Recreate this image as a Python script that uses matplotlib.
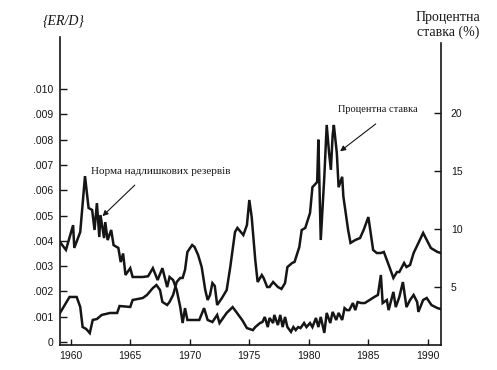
import matplotlib
matplotlib.use("Agg")
import matplotlib.pyplot as plt

# excess reserves / deposits (left axis)
er_years = [1959.1, 1959.6, 1960.2, 1960.3, 1960.8, 1961.2, 1961.5, 1961.8, 1962.0, 1962.2,
            1962.4, 1962.5, 1962.8, 1962.9, 1963.1, 1963.4, 1963.6, 1964.0, 1964.2, 1964.4,
            1964.6, 1965.0, 1965.2, 1965.6, 1966.05, 1966.5, 1966.9, 1967.3, 1967.7, 1968.1,
            1968.3, 1968.6, 1968.9, 1969.2, 1969.4, 1969.6, 1969.8, 1970.8, 1971.2, 1971.5,
            1971.9, 1972.3, 1972.5, 1973.1, 1973.6, 1973.9, 1974.4, 1974.8, 1975.3, 1975.5,
            1975.9, 1976.1, 1976.3, 1976.55, 1976.7, 1977.0, 1977.1, 1977.4, 1977.6, 1977.8,
            1978.0, 1978.2, 1978.5, 1978.7, 1978.9, 1979.1, 1979.3, 1979.6, 1979.8, 1980.1,
            1980.3, 1980.6, 1980.8, 1981.0, 1981.3, 1981.5, 1981.8, 1982.0, 1982.3, 1982.5,
            1982.8, 1983.0, 1983.2, 1983.4, 1983.7, 1983.9, 1984.1, 1984.4, 1984.7, 1985.1,
            1985.5, 1985.8, 1986.05, 1986.2, 1986.55, 1986.7, 1987.1, 1987.3, 1987.6, 1987.9,
            1988.2, 1988.5, 1988.8, 1989.1, 1989.2, 1989.6, 1989.9, 1990.3, 1990.8, 1991.1]
er_ratio = [3.95, 3.64, 4.62, 3.72, 4.35, 6.56, 5.30, 5.22, 4.43, 5.49,
            4.15, 5.02, 4.11, 4.74, 4.03, 4.43, 3.83, 3.72, 3.16, 3.50,
            2.65, 2.92, 2.57, 2.57, 2.57, 2.60, 2.92, 2.45, 2.92, 2.17,
            2.57, 2.45, 2.06, 1.38, 0.75, 1.34, 0.87, 0.87, 1.34, 0.87,
            0.79, 1.07, 0.75, 1.15, 1.38, 1.19, 0.87, 0.55, 0.47, 0.59,
            0.75, 0.79, 0.99, 0.59, 0.95, 0.75, 1.07, 0.67, 1.07, 0.59,
            0.99, 0.59, 0.40, 0.59, 0.47, 0.59, 0.55, 0.75, 0.59, 0.75,
            0.59, 0.95, 0.59, 0.99, 0.36, 1.15, 0.75, 1.19, 0.87, 1.15,
            0.87, 1.34, 1.26, 1.26, 1.54, 1.26, 1.58, 1.54, 1.54, 1.66,
            1.78, 1.86, 2.65, 1.54, 1.66, 1.26, 1.98, 1.38, 1.78, 2.37,
            1.38, 1.66, 1.86, 1.58, 1.19, 1.66, 1.74, 1.46, 1.34, 1.30]
er_ratio = [v / 1000 for v in er_ratio]

# interest rate, % (right axis)
rate_years = [1959.1, 1959.9, 1960.5, 1960.8, 1961.0, 1961.3, 1961.6, 1961.85, 1962.2, 1962.6,
              1963.3, 1963.9, 1964.1, 1965.0, 1965.2, 1966.05, 1966.4, 1966.9, 1967.2, 1967.5,
              1967.7, 1968.1, 1968.3, 1968.6, 1968.9, 1969.2, 1969.4, 1969.6, 1969.8, 1970.2,
              1970.4, 1970.7, 1971.0, 1971.3, 1971.5, 1971.7, 1971.9, 1972.1, 1972.3, 1972.7,
              1973.1, 1973.4, 1973.8, 1974.0, 1974.5, 1974.8, 1975.0, 1975.2, 1975.5, 1975.7,
              1976.05, 1976.2, 1976.5, 1976.7, 1977.0, 1977.4, 1977.7, 1978.0, 1978.2, 1978.6,
              1978.8, 1979.2, 1979.4, 1979.7, 1980.1, 1980.3, 1980.7, 1980.8, 1981.0, 1981.3,
              1981.5, 1981.7, 1981.85, 1982.0, 1982.1, 1982.35, 1982.5, 1982.8, 1982.9, 1983.3,
              1983.5, 1983.9, 1984.3, 1984.6, 1985.0, 1985.4, 1985.7, 1986.05, 1986.3, 1986.55,
              1986.8, 1987.1, 1987.4, 1987.6, 1988.0, 1988.2, 1988.5, 1988.8, 1989.2, 1989.6,
              1990.25, 1990.8, 1991.1]
rate = [2.76, 4.14, 4.14, 3.28, 1.55, 1.38, 1.03, 2.16, 2.24, 2.59,
        2.76, 2.76, 3.36, 3.28, 3.88, 4.05, 4.31, 4.91, 5.17, 4.74,
        3.71, 3.45, 3.71, 4.31, 5.43, 5.78, 5.78, 6.47, 8.02, 8.62,
        8.45, 7.76, 6.72, 4.74, 3.88, 4.31, 5.34, 5.09, 3.45, 4.05,
        4.74, 6.72, 9.74, 10.09, 9.48, 10.34, 12.5, 11.03, 7.33, 5.43,
        6.03, 5.78, 5.0, 5.0, 5.43, 5.0, 4.83, 5.34, 6.72, 7.07,
        7.16, 8.45, 9.91, 10.09, 11.38, 13.6, 14.05, 17.7, 9.05, 14.5,
        18.97, 16.55, 15.1, 18.1, 18.97, 16.55, 13.6, 14.5, 12.8, 9.91,
        8.8, 9.05, 9.22, 9.91, 11.03, 8.19, 7.93, 7.93, 8.02, 7.33,
        6.64, 5.78, 6.29, 6.29, 7.07, 6.72, 6.90, 7.93, 8.79, 9.66,
        8.36, 8.02, 7.93]

year_ticks = [1960, 1965, 1970, 1975, 1980, 1985, 1990]
er_ticks = [0, .001, .002, .003, .004, .005, .006, .007, .008, .009, .010]
er_labels = ['0', '.001', '.002', '.003', '.004', '.005', '.006', '.007', '.008', '.009', '.010']
rate_ticks = [5, 10, 15, 20]

ink = '#151515'
sans = 'Liberation Sans'
serif = 'Liberation Serif'

fig = plt.figure(figsize=(4.97, 3.70), dpi=100)
ax = fig.add_axes([60 / 497, 1 - 345 / 370, (441 - 60) / 497, (345 - 37) / 370])
ax2 = ax.twinx()

ax.plot(er_years, er_ratio, color=ink, lw=1.8, solid_joinstyle='miter')
ax2.plot(rate_years, rate, color=ink, lw=1.8, solid_joinstyle='miter')

ax.set_xlim(1959.1, 1991.1)
ax.set_ylim(-0.000119, 0.01206)
ax2.set_ylim(0, 26.55)

for s in ['top', 'right']:
    ax.spines[s].set_visible(False)
for s in ['top', 'left', 'bottom']:
    ax2.spines[s].set_visible(False)
for sp in [ax.spines['left'], ax.spines['bottom'], ax2.spines['right']]:
    sp.set_linewidth(1.2)
    sp.set_color(ink)
ax2.spines['right'].set_bounds(0, 26.0)

ax.set_xticks(year_ticks)
ax.set_xticklabels([str(y) for y in year_ticks], fontfamily=sans, fontsize=7.5)
ax.set_yticks(er_ticks)
ax.set_yticklabels(er_labels, fontfamily=sans, fontsize=7.5)
ax2.set_yticks(rate_ticks)
ax2.set_yticklabels([str(r) for r in rate_ticks], fontfamily=sans, fontsize=7.5)
ax.tick_params(axis='x', direction='in', length=4, width=1, pad=4, colors=ink)
ax.tick_params(axis='y', direction='in', length=5, width=1, pad=5, colors=ink)
ax2.tick_params(axis='y', direction='in', length=5, width=1, pad=7, colors=ink)

fig.text(64 / 497, 1 - 21 / 370, '{ER/D}', fontfamily=serif, style='italic',
         fontsize=10, ha='center', va='center', color=ink)
fig.text(448 / 497, 1 - 25 / 370, 'Процентна\nставка (%)', fontfamily=serif,
         fontsize=10, ha='center', va='center', linespacing=1.1, color=ink)

# annotations
ax.text(1967.56, 0.00676, 'Норма надлишкових резервів', fontfamily=serif,
        fontsize=8, ha='center', va='center', color=ink)
ax.annotate('', xy=(1962.5, 0.0049), xytext=(1965.55, 0.00628),
            arrowprops=dict(arrowstyle='-|>', lw=0.8, color=ink, mutation_scale=8))
ax2.text(1985.8, 20.26, 'Процентна ставка', fontfamily=serif,
         fontsize=7.5, ha='center', va='center', color=ink)
ax2.annotate('', xy=(1982.44, 16.55), xytext=(1985.8, 19.2),
             arrowprops=dict(arrowstyle='-|>', lw=0.8, color=ink, mutation_scale=8))

fig.savefig('out.png', dpi=100)
